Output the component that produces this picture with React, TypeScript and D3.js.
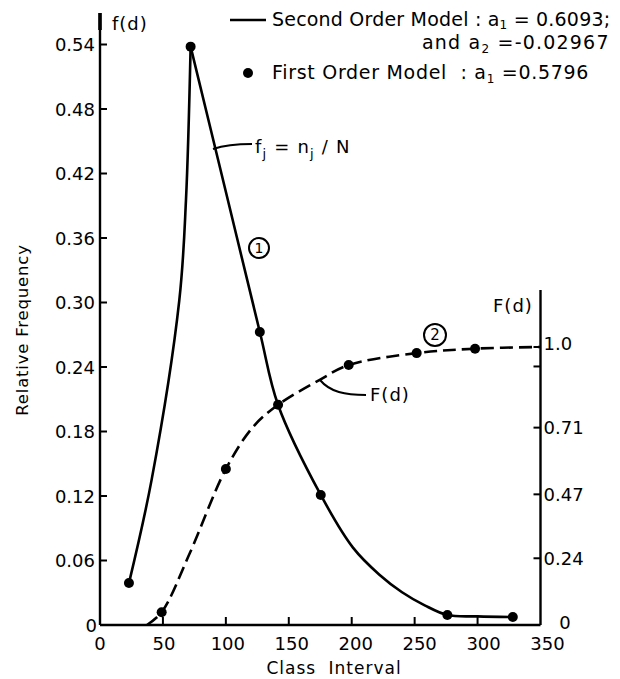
import React from "react";
import * as d3 from "d3";

// ---- Data ----
// f(d): relative frequency, second order model curve (rising and falling branches)
const fRiseX = [23, 41, 63, 68.3, 72];
const fRiseY = [0.039, 0.135, 0.302, 0.395, 0.538];
const fFallX = [72, 100, 127, 141.5, 175.4, 201, 222, 240, 258, 276, 300, 328];
const fFallY = [0.538, 0.403, 0.2726, 0.2047, 0.121, 0.072, 0.0468, 0.0305, 0.0183, 0.0093, 0.008, 0.0074];
// first order model points on f(d)
const fDotX = [23, 72, 127, 175.4, 276, 328];
const fDotY = [0.039, 0.538, 0.2726, 0.121, 0.0093, 0.0074];
// F(d): cumulative (right axis units)
const FCurveX = [37.3, 49, 71.4, 100, 121.7, 141.5, 174.6, 197.6, 251.6, 298, 350];
const FCurveY = [0, 0.046, 0.259, 0.561, 0.713, 0.792, 0.882, 0.935, 0.978, 0.994, 1.0];
const FDotX = [49, 100, 141.5, 197.6, 251.6, 298];
const FDotY = [0.046, 0.561, 0.792, 0.935, 0.978, 0.994];
// ticks
const xTicks = [0, 50, 100, 150, 200, 250, 300, 350];
const leftTicks = [0, 0.06, 0.12, 0.18, 0.24, 0.3, 0.36, 0.42, 0.48, 0.54];
const leftTickLabels = ["0", "0.06", "0.12", "0.18", "0.24", "0.30", "0.36", "0.42", "0.48", "0.54"];
const rightTicks = [0.24, 0.47, 0.71, 0.93, 1.0];
const rightTickLabels = ["0.24", "0.47", "0.71", "", "1.0"];

const W = 620;
const H = 679;
const FONT = "'DejaVu Sans', sans-serif";

export default function App() {
  const x = d3.scaleLinear().domain([0, 350]).range([100, 540.5]);
  const y = d3.scaleLinear().domain([0, 0.54]).range([625, 44.5]);
  const yR = d3.scaleLinear().domain([0, 1]).range([625, y(0.2586)]);

  const lineL = d3
    .line<[number, number]>()
    .x((d) => x(d[0]))
    .y((d) => y(d[1]))
    .curve(d3.curveCatmullRom.alpha(0.5));
  const lineR = d3
    .line<[number, number]>()
    .x((d) => x(d[0]))
    .y((d) => yR(d[1]))
    .curve(d3.curveCatmullRom.alpha(0.5));

  const rise = fRiseX.map((v, i) => [v, fRiseY[i]] as [number, number]);
  const fall = fFallX.map((v, i) => [v, fFallY[i]] as [number, number]);
  const Fc = FCurveX.map((v, i) => [v, FCurveY[i]] as [number, number]);

  const x0 = x(0);
  const x1 = x(350);
  const y0 = y(0);
  const sw = 2.6;

  return (
    <svg
      width={W}
      height={H}
      viewBox={`0 0 ${W} ${H}`}
      style={{ position: "fixed", left: 0, top: 0, background: "#fff" }}
      fontFamily={FONT}
    >
      <rect x={0} y={0} width={W} height={H} fill="#fff" />
      {/* axes */}
      <line x1={x0} x2={x0} y1={13} y2={y0} stroke="#000" strokeWidth={2.4} />
      <line x1={x0} x2={x0} y1={13} y2={30} stroke="#000" strokeWidth={3.6} />
      <line x1={x0} x2={x1} y1={y0} y2={y0} stroke="#000" strokeWidth={2.4} />
      <line x1={x1} x2={x1} y1={290} y2={y0} stroke="#000" strokeWidth={2.4} />

      {/* left ticks */}
      {leftTicks.map((t, i) => (
        <g key={"l" + i}>
          {t > 0 && <line x1={x0} x2={x0 + 7} y1={y(t)} y2={y(t)} stroke="#000" strokeWidth={2} />}
          <text
            x={t === 0 ? 97 : 95}
            y={y(t)}
            textAnchor="end"
            dominantBaseline="central"
            fontSize={18}
            fill="#000"
          >
            {leftTickLabels[i]}
          </text>
        </g>
      ))}

      {/* x ticks */}
      {xTicks.map((t, i) => (
        <g key={"x" + i}>
          {t > 0 && t < 350 && (
            <line x1={x(t)} x2={x(t)} y1={y0} y2={y0 - 8} stroke="#000" strokeWidth={2} />
          )}
          <text
            x={x(t) + t * 0.02}
            y={643}
            textAnchor="middle"
            dominantBaseline="central"
            fontSize={18}
            fill="#000"
          >
            {t}
          </text>
        </g>
      ))}

      {/* right ticks */}
      {rightTicks.map((t, i) => (
        <g key={"r" + i}>
          <line x1={x1 - 7} x2={x1} y1={yR(t)} y2={yR(t)} stroke="#000" strokeWidth={2} />
          <text
            x={x1 + 3}
            y={yR(t) - (t === 1 ? 4 : 0)}
            textAnchor="start"
            dominantBaseline="central"
            fontSize={18}
            fill="#000"
          >
            {rightTickLabels[i]}
          </text>
        </g>
      ))}
      <text x={565} y={622} textAnchor="middle" dominantBaseline="central" fontSize={18} fill="#000">
        0
      </text>

      {/* axis labels */}
      <text x={112} y={23} dominantBaseline="central" fontSize={18} letterSpacing={1} fill="#000">
        f(d)
      </text>
      <text x={493} y={305} dominantBaseline="central" fontSize={18} letterSpacing={1} fill="#000">
        F(d)
      </text>
      <text
        x={334}
        y={668}
        textAnchor="middle"
        dominantBaseline="central"
        fontSize={17}
        letterSpacing={1}
        wordSpacing={6}
        fill="#000"
      >
        Class Interval
      </text>
      <text
        transform={`translate(22,330) rotate(-90)`}
        textAnchor="middle"
        dominantBaseline="central"
        fontSize={16.5}
        letterSpacing={0.8}
        fill="#000"
      >
        Relative Frequency
      </text>

      {/* curves */}
      <path d={lineL(rise) || ""} fill="none" stroke="#000" strokeWidth={sw} />
      <path d={lineL(fall) || ""} fill="none" stroke="#000" strokeWidth={sw} />
      <path d={lineR(Fc) || ""} fill="none" stroke="#000" strokeWidth={sw} strokeDasharray="13,6" />

      {/* points */}
      {fDotX.map((v, i) => (
        <circle key={"fd" + i} cx={x(v)} cy={y(fDotY[i])} r={5} fill="#000" />
      ))}
      {FDotX.map((v, i) => (
        <circle key={"Fd" + i} cx={x(v)} cy={yR(FDotY[i])} r={5} fill="#000" />
      ))}

      {/* annotations */}
      <path d="M213,149 Q228,144 252,144" fill="none" stroke="#000" strokeWidth={2} />
      <text x={255} y={153} fontSize={18} letterSpacing={1.2} fill="#000">
        f<tspan fontSize={13} dy={5}>j</tspan>
        <tspan dy={-5}> = n</tspan>
        <tspan fontSize={13} dy={5}>j</tspan>
        <tspan dy={-5}> / N</tspan>
      </text>
      <circle cx={259} cy={248} r={10} fill="none" stroke="#000" strokeWidth={2} />
      <text x={259} y={248} textAnchor="middle" dominantBaseline="central" fontSize={14} fill="#000">
        1
      </text>
      <circle cx={435} cy={335} r={11} fill="none" stroke="#000" strokeWidth={2} />
      <text x={435} y={335} textAnchor="middle" dominantBaseline="central" fontSize={15} fill="#000">
        2
      </text>
      <path d="M320,380 C330,392 345,395 366,395" fill="none" stroke="#000" strokeWidth={2} />
      <text x={370} y={394} dominantBaseline="central" fontSize={18} letterSpacing={1} fill="#000">
        F(d)
      </text>

      {/* legend */}
      <line x1={230} x2={266} y1={20} y2={20} stroke="#000" strokeWidth={2.6} />
      <text x={272} y={26} fontSize={19} letterSpacing={0.2} fill="#000">
        Second Order Model : a<tspan fontSize={12} dy={3}>1</tspan>
        <tspan dy={-3}> = 0.6093;</tspan>
      </text>
      <text x={422} y={49} fontSize={19} letterSpacing={1.2} fill="#000">
        and a<tspan fontSize={12} dy={4}>2</tspan>
        <tspan dy={-4}> =-0.02967</tspan>
      </text>
      <circle cx={248} cy={73} r={5} fill="#000" />
      <text x={272} y={79} fontSize={19} letterSpacing={0.7} fill="#000">
        {"First Order Model\u00A0\u00A0: a"}
        <tspan fontSize={12} dy={4}>1</tspan>
        <tspan dy={-4}> =0.5796</tspan>
      </text>
    </svg>
  );
}
